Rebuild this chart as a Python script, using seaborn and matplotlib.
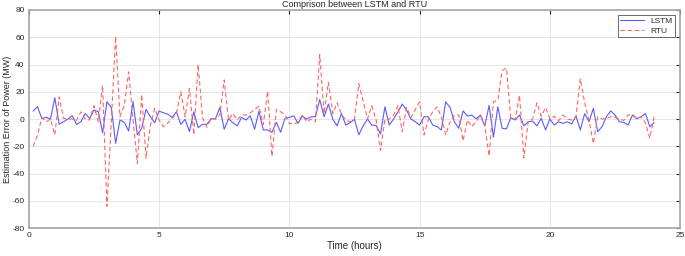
import numpy as np
import pandas as pd
import seaborn as sns
import matplotlib.pyplot as plt

# 10-minute samples over one day
hours = np.arange(1, 145) / 6

lstm_err = [5.8, 9, 0.5, 1.2, 0, 15.6, -3.9, -2, 0, 2.4, -3.9, -2, 4, 0.5, 6.6, 5.4, -10, 12.7, 8.5, -17.8, -0.7, -2.4, -8.8, 12.8,
            -11.6, -6.8, 7, 1.7, -2.7, 5.8, 4.6, 3.6, 1.2, 5.3, -3.9, -0.2, -9.2, 5.3, -6.3, -3.9, -3.9, 0.2, 0.2, 8.5, -7.5, 0.2, -2.7, -5,
            1.2, -0.7, 2.4, -7.5, 5.8, -8, -8, -9.7, -2.4, -9.7, 0.5, 1.2, 2.4, -3.2, 2.2, 0, 1.7, 1.7, 14.3, 1.7, 11, -0.2, -5, 4,
            -4.4, -2.7, -0.2, -11.6, -5, 0, -4.4, -4.8, -11, 9, -4.4, 0, 5.3, 11, 6.5, 0, -2, -4.4, 1.7, 1.7, -4.4, -5.5, -8, 12.6,
            8.5, -2, -6.8, 6, 2.2, 2.9, 0.2, 2.9, -5, 10, -13.3, 9, -6.8, -7.2, 1, -0.7, 2.9, -5, -2, -1.5, -5, 0.5, -8, 0,
            -4.4, -2, -3.2, -2, -3.6, 2.2, -8, 4, -2, 7.8, -9.2, -5.6, 1.7, 6, 2.9, -2, -2.4, -4.4, 2.9, 0.2, 1.7, 4, -5.6, -2.7]

rtu_err = [-20, -12, 1, -2, 0, -11.6, 16.2, 0.5, 0, 0, -1, 5.3, 0, -0.7, 9.7, -2, 24.7, -64, -2, 60.5, 1.7, 10, 34.6, 0,
           -32.7, 18, -28.7, -5, 7.8, -0.7, -5.6, -3, 0.5, 4, 20, 1.7, 22.3, -11.6, 40, 1, -6, 0.5, 0, 2.9, 28.7, -0.7, 4, -0.7,
           2.9, 3, 4.5, 7, 9.5, -4, 20.4, -27.4, 7, 5.3, 3.4, -3.2, -3.9, -2, 3, -2, 0, -2, 47.3, 4, 27, 4, 11.9, 3.4,
           -0.7, -2, 0, 26, 13, 0, 9.7, -1, -23, 0, 0, 3, 9.7, -9.2, 8.5, 1.2, 7, 12.6, -11.6, -0.7, 5.3, 9, 1.7, -11.6,
           -2, 3, 3, -16, -0.7, -5.6, -2, 2.9, -5, -27, 12.6, 13.8, 35.6, 37.3, 0, 0, 17.5, -28.6, -2, 0, 11.9, 2, 8.5, 0,
           2, -1.2, 2.9, 0, -0.7, 1.7, 29.6, 12, -1, -18, 1.7, 0, 0.5, 1.7, 1.2, 0, -1, 2.9, 3.4, 0.5, 1.7, -3, -14, 1.7]

models = ["LSTM", "RTU"]

df = pd.DataFrame({
    "hours": np.concatenate([hours, hours]),
    "error": lstm_err + rtu_err,
    "model": ["LSTM"] * len(lstm_err) + ["RTU"] * len(rtu_err),
})

sns.set_style("white")
plt.rcParams['font.family'] = ['Liberation Sans', 'DejaVu Sans']
plt.rcParams['axes.unicode_minus'] = False

fig = plt.figure(figsize=(6.85, 2.56), dpi=100)
ax = fig.add_axes([0.042, 0.109, 0.951, 0.852])

sns.lineplot(data=df, x="hours", y="error", hue="model", style="model",
             hue_order=models, style_order=models,
             palette={"LSTM": "#5b5bff", "RTU": "#ff6666"},
             dashes={"LSTM": "", "RTU": (4, 2.5)},
             linewidth=0.8, ax=ax)

ax.set_xlim(0, 25)
ax.set_ylim(-80, 80)
ax.set_xticks([0, 5, 10, 15, 20, 25])
ax.set_yticks(range(-80, 81, 20))
ax.grid(True, color="#e6e6e6", linewidth=0.7)
ax.tick_params(direction="in", length=3, labelsize=6, colors="#262626", top=True, right=True,
               labeltop=False, labelright=False, pad=3)
for s in ax.spines.values():
    s.set_color("#a6a6a6")
    s.set_linewidth(1.2)

ax.set_xlabel("Time (hours)", fontsize=7, labelpad=1)
ax.set_ylabel("Estimation Error of Power (MW)", fontsize=6.5, labelpad=0)
ax.set_title("Comprison between LSTM and RTU", fontsize=6.5, pad=2)

leg = ax.legend(loc="upper right", fontsize=6, frameon=True, fancybox=False,
                borderpad=0.3, handlelength=2.8, labelspacing=0.2, borderaxespad=0.6)
leg.get_frame().set_edgecolor("#262626")
leg.get_frame().set_linewidth(0.6)

fig.savefig("out.png", dpi=100)
